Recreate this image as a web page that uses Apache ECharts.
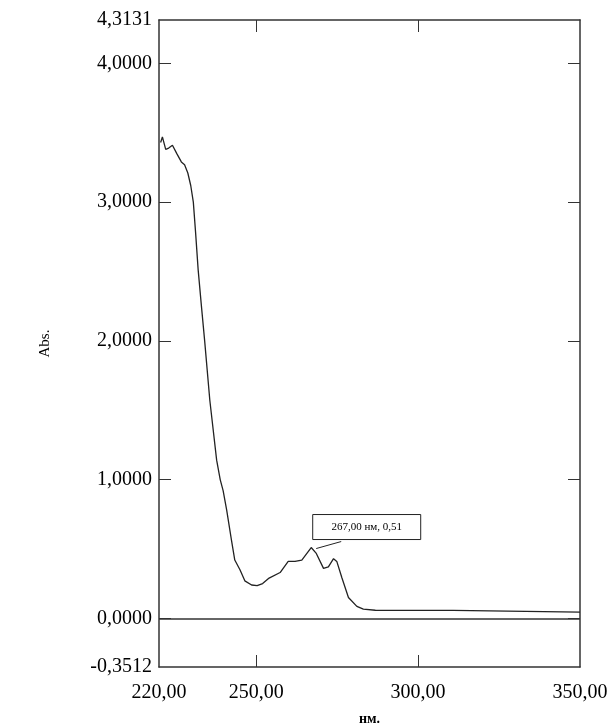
<!DOCTYPE html>
<html>
<head>
<meta charset="utf-8">
<script src="https://cdn.jsdelivr.net/npm/echarts@6/dist/echarts.min.js"></script>
<style>
  html, body { margin: 0; padding: 0; background: #fff; }
  #chart { width: 612px; height: 726px; }
</style>
</head>
<body>
<div id="chart"></div>
<script>
// spectrum
const wavelength = [220.5, 221.05, 222.07, 223.0, 224.15, 225.5, 226.9, 227.9, 228.9, 229.8,
  230.6, 231.3, 232.1, 233.1, 234.1, 235.7, 237.8, 238.9, 239.8, 240.9,
  242.4, 243.4, 245.0, 246.5, 248.6, 250.3, 252.0, 254.0, 257.4, 259.9,
  262.0, 264.1, 267.0, 268.5, 270.8, 272.3, 273.9, 274.9, 276.5, 278.5,
  281.1, 283.1, 286.8, 310.8, 311.2, 350.0];
const absorbance = [3.43, 3.47, 3.38, 3.39, 3.41, 3.35, 3.29, 3.27, 3.21, 3.12,
  3.00, 2.78, 2.51, 2.25, 2.00, 1.57, 1.14, 1.00, 0.92, 0.78,
  0.56, 0.42, 0.35, 0.27, 0.24, 0.235, 0.25, 0.29, 0.33, 0.41,
  0.41, 0.42, 0.51, 0.47, 0.36, 0.37, 0.43, 0.41, 0.29, 0.15,
  0.086, 0.066, 0.058, 0.057, 0.045, 0.045];

const xLabelValues = [220, 250, 300, 350];
const xTickValues = [250, 300];
const yLabelValues = [-0.3512, 0, 1, 2, 3, 4, 4.3131];
const yTickValues = [0, 1, 2, 3, 4];
const peak = [267, 0.51];
const peakText = "267,00 нм, 0,51";

const font = "'Liberation Serif', 'DejaVu Serif', serif";
const lineColor = "#333";

let chart = echarts.init(document.getElementById("chart"));

function axisBase() {
  return {
    axisLine: { show: true, onZero: false, lineStyle: { color: lineColor, width: 1.5 } },
    splitLine: { show: false }
  };
}

chart.setOption({
  animation: false,
  grid: { left: 159, right: 32, top: 20, bottom: 59, outerBoundsMode: "none" },
  xAxis: [
    Object.assign(axisBase(), {
      type: "value", min: 220, max: 350, position: "bottom",
      name: "нм.", nameLocation: "middle", nameGap: 45,
      nameTextStyle: { fontFamily: font, fontSize: 14, fontWeight: "bold", color: "#000" },
      axisTick: { show: true, inside: true, length: 12, customValues: xTickValues, lineStyle: { color: lineColor } },
      axisLabel: {
        customValues: xLabelValues, margin: 16,
        fontFamily: font, fontSize: 20, color: "#000",
        formatter: v => v.toFixed(2).replace(".", ",")
      }
    }),
    Object.assign(axisBase(), {
      type: "value", min: 220, max: 350, position: "top",
      axisTick: { show: true, inside: true, length: 12, customValues: xTickValues, lineStyle: { color: lineColor } },
      axisLabel: { show: false }
    })
  ],
  yAxis: [
    Object.assign(axisBase(), {
      type: "value", min: -0.3512, max: 4.3131, position: "left",
      name: "Abs.", nameLocation: "middle", nameGap: 106, nameRotate: 90,
      nameTextStyle: { fontFamily: font, fontSize: 15, color: "#000" },
      axisTick: { show: true, inside: true, length: 12, customValues: yTickValues, lineStyle: { color: lineColor } },
      axisLabel: {
        customValues: yLabelValues, margin: 7,
        fontFamily: font, fontSize: 20, color: "#000",
        formatter: v => v.toFixed(4).replace(".", ",")
      }
    }),
    Object.assign(axisBase(), {
      type: "value", min: -0.3512, max: 4.3131, position: "right",
      axisTick: { show: true, inside: true, length: 12, customValues: yTickValues, lineStyle: { color: lineColor } },
      axisLabel: { show: false }
    })
  ],
  series: [{
    type: "line",
    data: wavelength.map((w, i) => [w, absorbance[i]]),
    showSymbol: false,
    lineStyle: { color: "#222", width: 1.3 },
    markLine: {
      silent: true, symbol: "none", label: { show: false },
      lineStyle: { color: lineColor, width: 1.5, type: "solid" },
      data: [{ yAxis: 0 }]
    }
  }]
});

// peak annotation, placed next to the peak through the axes
let p = chart.convertToPixel({ gridIndex: 0 }, peak);
chart.setOption({
  graphic: [
    {
      type: "line", silent: true,
      shape: { x1: p[0] + 5, y1: p[1] + 1, x2: p[0] + 30, y2: p[1] - 6 },
      style: { stroke: "#222", lineWidth: 1 }
    },
    {
      type: "rect", silent: true,
      shape: { x: p[0] + 1.5, y: p[1] - 33, width: 108, height: 25 },
      style: { fill: "#fff", stroke: "#222", lineWidth: 1 }
    },
    {
      type: "text", silent: true,
      x: p[0] + 55.5, y: p[1] - 20.5,
      style: { text: peakText, font: "11px " + font, fill: "#000", align: "center", verticalAlign: "middle" }
    }
  ]
});
</script>
</body>
</html>
